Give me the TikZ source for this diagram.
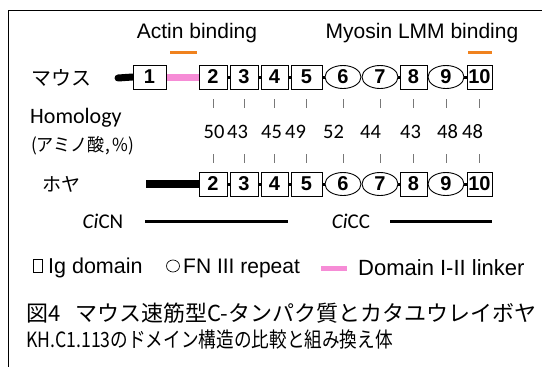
\documentclass[tikz,border=0pt]{standalone}
\usepackage{fontspec}
\setmainfont{Liberation Sans}
\newfontfamily\jpfont{Noto Sans CJK JP}
\newfontfamily\calfont{Carlito}
\usetikzlibrary{shapes.geometric,backgrounds}
\definecolor{bindorange}{RGB}{240,130,30}
\definecolor{linkpink}{RGB}{246,140,214}
\definecolor{tickgray}{RGB}{120,120,120}

\begin{document}
\begin{tikzpicture}[x=1pt,y=-1pt,
  fs/.style={font=\fontsize{#1}{#1}\selectfont},
  jp/.style={font=\jpfont\fontsize{#1}{#1}\selectfont},
  cal/.style={font=\calfont\fontsize{#1}{#1}\selectfont},
  igdom/.style={draw, line width=0.9pt, fill=white, inner sep=0pt,
    minimum height=24pt, font=\bfseries\fontsize{20}{20}\selectfont},
  fndom/.style={ellipse, draw, line width=0.9pt, fill=white, inner sep=0pt,
    minimum height=23pt, minimum width=36pt, font=\bfseries\fontsize{20}{20}\selectfont},
  link/.style={line width=3pt, black},
  tickmark/.style={line width=0.8pt, tickgray},
  bindbar/.style={line width=3pt, bindorange},
  fragment/.style={line width=3pt, black},
]
\useasboundingbox (0,0) rectangle (542,367);

% frame (open on the right and bottom)
\draw[line width=1.6pt] (8.5,367) -- (8.5,10.5) -- (542,10.5);

% binding labels
\node[fs=21] (actin) at (197,33) {Actin binding};
\node[fs=21] (myosin) at (422,33) {Myosin LMM binding};

% mouse fast-muscle C-protein
\node[jp=20, anchor=west, inner sep=0] (mouse) at (31,78) {マウス};
\node[igdom, minimum width=33pt] (m1) at (149.5,77) {1};
\foreach \d/\x/\w in {2/213/28,3/244/28,4/274.5/27,5/306.5/31,8/413.5/27,10/479.5/25}
  \node[igdom, minimum width=\w pt] (m\d) at (\x,77) {\d};
\foreach \d/\x in {6/343,7/380,9/446}
  \node[fndom] (m\d) at (\x,77) {\d};

% ascidian homologue
\node[jp=19, anchor=west, inner sep=0] (hoya) at (42,184) {ホヤ};
\foreach \d/\x/\w in {2/213/28,3/244/28,4/274.5/27,5/306.5/31,8/413.5/27,10/479.5/25}
  \node[igdom, minimum width=\w pt] (h\d) at (\x,184) {\d};
\foreach \d/\x in {6/343,7/380,9/446}
  \node[fndom] (h\d) at (\x,184) {\d};

\coordinate (stub) at (118,78);
\coordinate (tail) at (146,184);
\begin{scope}[on background layer]
  \draw[line width=7pt, line cap=round] (stub) -- (m1.west);
  \draw[line width=7pt, linkpink] (m1.east) -- (m2.west);
  \draw[line width=8pt] (tail) -- (h2.west);
  \foreach \a/\b in {2/3,3/4,4/5,5/6,7/8,8/9,9/10} {
    \draw[link] (m\a.east) -- (m\b.west);
    \draw[link] (h\a.east) -- (h\b.west);
  }
\end{scope}

% binding regions
\coordinate (ab1) at (170,52); \coordinate (ab2) at (197,52);
\coordinate (lb1) at (468,52); \coordinate (lb2) at (492,52);
\draw[bindbar] (ab1) -- (ab2);
\draw[bindbar] (lb1) -- (lb2);

% homology ticks
\coordinate (ua) at (0,99); \coordinate (ub) at (0,108);
\coordinate (la) at (0,154); \coordinate (lb) at (0,163);
\foreach \d in {2,...,10} {
  \draw[tickmark] (m\d |- ua) -- (m\d |- ub);
  \draw[tickmark] (h\d |- la) -- (h\d |- lb);
}

\node[cal=22, anchor=west, inner sep=0] (homology) at (30,118) {Homology};
\node[jp=18, anchor=west, inner sep=0] (aa) at (31,146) {\scalebox{0.95}[1]{(アミノ酸,\,\%)}};
\foreach \v/\x [count=\i] in {50/214,43/237.5,45/271.5,49/295.5,52/333.5,44/370.5,43/410.5,48/447.5,48/472.5}
  \node[cal=20.5] (n\i) at (\x,132) {\v};

% recombinant fragments
\node[cal=21] (cicn) at (103,221) {\textit{Ci}CN};
\node[cal=21] (cicc) at (351,221) {\textit{Ci}CC};
\coordinate (cn1) at (145,221); \coordinate (cn2) at (288,221);
\coordinate (cc1) at (390,221); \coordinate (cc2) at (492,221);
\draw[fragment] (cn1) -- (cn2);
\draw[fragment] (cc1) -- (cc2);

% legend
\node[draw, line width=0.7pt, minimum width=9pt, minimum height=13pt, inner sep=0] (kig) at (38,266) {};
\node[fs=21.5, anchor=west, inner sep=0] (tig) at (48,268) {Ig domain};
\node[ellipse, draw, line width=0.7pt, minimum width=13pt, minimum height=12pt, inner sep=0] (kfn) at (173,266) {};
\node[fs=21, anchor=west, inner sep=0] (tfn) at (183,268) {FN III repeat};
\coordinate (kl1) at (321,268); \coordinate (kl2) at (347,268);
\draw[line width=5pt, linkpink] (kl1) -- (kl2);
\node[fs=22, anchor=west, inner sep=0] (tl) at (358,268) {Domain I-II linker};

% caption
\node[jp=22, anchor=west, inner sep=0] (cap1) at (26,313) {図4\hspace{15pt}マウス速筋型C-タンパク質とカタユウレイボヤ};
\node[jp=21, anchor=west, inner sep=0] (cap2) at (26,340) {\scalebox{0.84}[1]{KH.C1.113のドメイン構造の比較と組み換え体}};
\end{tikzpicture}
\end{document}
